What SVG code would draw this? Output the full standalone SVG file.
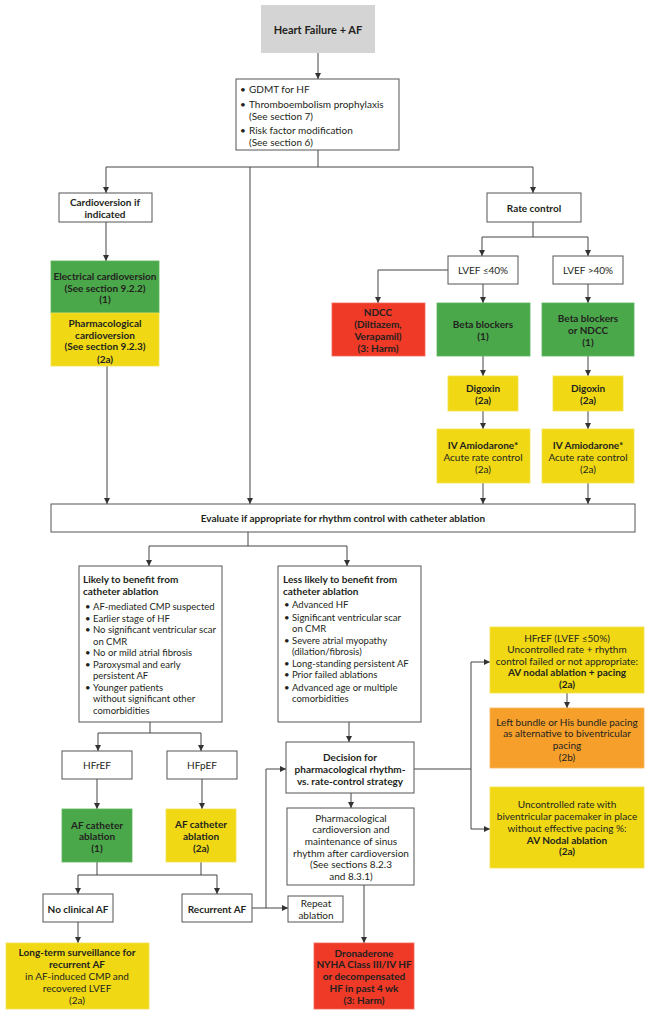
<svg xmlns="http://www.w3.org/2000/svg" width="648" height="1013" viewBox="0 0 648 1013">
<style>
.t{font-family:Lato,"Liberation Sans",sans-serif;font-size:10px;fill:#231f20}
.s{font-size:9.5px}
.b{font-weight:bold}
.c{text-anchor:middle}
.box{fill:#fff;stroke:#555;stroke-width:1}
.green{fill:#4aa84a;stroke:#5bb45b;stroke-width:0.8}
.yellow{fill:#f0d914;stroke:#f3e050;stroke-width:0.8}
.red{fill:#ee3a26;stroke:#f26655;stroke-width:0.8}
.orange{fill:#f6a02b;stroke:#f8b55a;stroke-width:0.8}
.gray{fill:#d4d4d4}
.ln{stroke:#444;stroke-width:1;fill:none}
.ar{marker-end:url(#ah)}
</style>
<defs>
<marker id="ah" markerUnits="userSpaceOnUse" markerWidth="7" markerHeight="7" refX="6" refY="3" orient="auto">
<path d="M0,0 L6,3 L0,6 z" fill="#333"/>
</marker>
</defs>
<rect width="648" height="1013" fill="#fff"/>

<g id="connectors">
<path class="ln ar" d="M318,53 V79"/>
<path class="ln" d="M318,150 V167 M106,167 H533"/>
<path class="ln ar" d="M106,167 V193"/>
<path class="ln ar" d="M533,167 V193"/>
<path class="ln ar" d="M250,167 V504"/>
<path class="ln ar" d="M106,222 V261"/>
<path class="ln ar" d="M107,366 V504"/>
<path class="ln" d="M533,222 V237 M482,237 H588"/>
<path class="ln ar" d="M482,237 V256"/>
<path class="ln ar" d="M588,237 V256"/>
<path class="ln ar" d="M448,270 H378 V303"/>
<path class="ln ar" d="M483,284 V303"/>
<path class="ln ar" d="M588,284 V303"/>
<path class="ln ar" d="M483,356 V376"/>
<path class="ln ar" d="M588,356 V376"/>
<path class="ln ar" d="M483,411 V429"/>
<path class="ln ar" d="M588,411 V429"/>
<path class="ln ar" d="M483,483 V504"/>
<path class="ln ar" d="M588,483 V504"/>
<path class="ln" d="M248,532 V546 M149,546 H347"/>
<path class="ln ar" d="M149,546 V566"/>
<path class="ln ar" d="M347,546 V566"/>
<path class="ln" d="M150,722 V733 M98,733 H201"/>
<path class="ln ar" d="M98,733 V751"/>
<path class="ln ar" d="M201,733 V751"/>
<path class="ln ar" d="M349,722 V742"/>
<path class="ln ar" d="M97,779 V809"/>
<path class="ln ar" d="M202,779 V809"/>
<path class="ln" d="M97,862 V875 M201,862 V875 M78,875 H217"/>
<path class="ln ar" d="M78,875 V894"/>
<path class="ln ar" d="M217,875 V894"/>
<path class="ln ar" d="M78,922 V943"/>
<path class="ln ar" d="M252,908 H288"/>
<path class="ln ar" d="M266,908 V769 H286"/>
<path class="ln ar" d="M351,793 V808"/>
<path class="ln ar" d="M364,885 V943"/>
<path class="ln" d="M414,769 H471 M471,662 V829"/>
<path class="ln ar" d="M471,662 H490"/>
<path class="ln ar" d="M471,829 H490"/>
<path class="ln ar" d="M567,693 V708"/>
</g>

<g id="n-hf">
<rect class="gray" x="261" y="5" width="114" height="48"/>
<text class="t b c" x="318" y="34" style="font-size:11px">Heart Failure + AF</text>
</g>

<g id="n-gdmt">
<rect class="box" x="236" y="79" width="163" height="71"/>
<text class="t" x="240" y="92.5">•</text>
<text class="t" x="249" y="92.5">GDMT for HF</text>
<text class="t" x="240" y="107.5">•</text>
<text class="t" x="249" y="107.5">Thromboembolism prophylaxis</text>
<text class="t" x="249" y="119.5">(See section 7)</text>
<text class="t" x="240" y="133.5">•</text>
<text class="t" x="249" y="133.5">Risk factor modification</text>
<text class="t" x="249" y="145.5">(See section 6)</text>
</g>

<g id="n-cardioversion">
<rect class="box" x="59" y="193" width="93" height="29"/>
<text class="t b c" x="105" y="205.5">Cardioversion if</text>
<text class="t b c" x="105" y="217.5">indicated</text>
</g>

<g id="n-electrical">
<rect class="green" x="51" y="261" width="108" height="52"/>
<text class="t b c" x="105" y="279.5">Electrical cardioversion</text>
<text class="t b c" x="105" y="291.5">(See section 9.2.2)</text>
<text class="t b c" x="105" y="302.5">(1)</text>
</g>

<g id="n-pharmcv">
<rect class="yellow" x="51" y="313" width="108" height="53"/>
<text class="t b c" x="105" y="326.5">Pharmacological</text>
<text class="t b c" x="105" y="338.5">cardioversion</text>
<text class="t b c" x="105" y="349.5">(See section 9.2.3)</text>
<text class="t b c" x="105" y="362.5">(2a)</text>
</g>

<g id="n-rate">
<rect class="box" x="487" y="193" width="94" height="29"/>
<text class="t b c" x="534" y="211.5">Rate control</text>
</g>

<g id="n-lvef40">
<rect class="box" x="448" y="256" width="70" height="28"/>
<text class="t c" x="483" y="273.5">LVEF ≤40%</text>
</g>

<g id="n-lvefgt40">
<rect class="box" x="553" y="256" width="70" height="28"/>
<text class="t c" x="588" y="273.5">LVEF &gt;40%</text>
</g>

<g id="n-ndcc">
<rect class="red" x="332" y="303" width="93" height="53"/>
<text class="t b c" x="378" y="315.5">NDCC</text>
<text class="t b c" x="378" y="327.5">(Diltiazem,</text>
<text class="t b c" x="378" y="339.5">Verapamil)</text>
<text class="t b c" x="378" y="351.5">(3: Harm)</text>
</g>

<g id="n-beta">
<rect class="green" x="437" y="303" width="93" height="53"/>
<text class="t b c" x="483" y="327.5">Beta blockers</text>
<text class="t b c" x="483" y="339.5">(1)</text>
</g>

<g id="n-betandcc">
<rect class="green" x="542" y="303" width="92" height="53"/>
<text class="t b c" x="588" y="321.5">Beta blockers</text>
<text class="t b c" x="588" y="333.5">or NDCC</text>
<text class="t b c" x="588" y="345.5">(1)</text>
</g>

<g id="n-digoxin1">
<rect class="yellow" x="448" y="376" width="70" height="35"/>
<text class="t b c" x="483" y="391.5">Digoxin</text>
<text class="t b c" x="483" y="403.5">(2a)</text>
</g>

<g id="n-digoxin2">
<rect class="yellow" x="553" y="376" width="70" height="35"/>
<text class="t b c" x="588" y="391.5">Digoxin</text>
<text class="t b c" x="588" y="403.5">(2a)</text>
</g>

<g id="n-amio1">
<rect class="yellow" x="437" y="429" width="93" height="54"/>
<text class="t b c" x="483" y="448.5">IV Amiodarone*</text>
<text class="t c" x="483" y="460.5">Acute rate control</text>
<text class="t c" x="483" y="472.5">(2a)</text>
</g>

<g id="n-amio2">
<rect class="yellow" x="542" y="429" width="92" height="54"/>
<text class="t b c" x="588" y="448.5">IV Amiodarone*</text>
<text class="t c" x="588" y="460.5">Acute rate control</text>
<text class="t c" x="588" y="472.5">(2a)</text>
</g>

<g id="n-evaluate">
<rect class="box" x="51" y="504" width="584" height="28"/>
<text class="t b c" x="343" y="521.5">Evaluate if appropriate for rhythm control with catheter ablation</text>
</g>

<g id="n-likely">
<rect class="box" x="79" y="566" width="143" height="156"/>
<text class="t b" x="83" y="582.5">Likely to benefit from</text>
<text class="t b" x="83" y="594.5">catheter ablation</text>
<text class="t s" x="85" y="609.5">•</text><text class="t s" x="93" y="609.5">AF-mediated CMP suspected</text>
<text class="t s" x="85" y="621.5">•</text><text class="t s" x="93" y="621.5">Earlier stage of HF</text>
<text class="t s" x="85" y="632.5">•</text><text class="t s" x="93" y="632.5">No significant ventricular scar</text>
<text class="t s" x="93" y="644.5">on CMR</text>
<text class="t s" x="85" y="655.5">•</text><text class="t s" x="93" y="655.5">No or mild atrial fibrosis</text>
<text class="t s" x="85" y="667.5">•</text><text class="t s" x="93" y="667.5">Paroxysmal and early</text>
<text class="t s" x="93" y="678.5">persistent AF</text>
<text class="t s" x="85" y="690.5">•</text><text class="t s" x="93" y="690.5">Younger patients</text>
<text class="t s" x="93" y="701.5">without significant other</text>
<text class="t s" x="93" y="713.5">comorbidities</text>
</g>

<g id="n-lesslikely">
<rect class="box" x="278" y="566" width="143" height="156"/>
<text class="t b" x="283" y="582.5">Less likely to benefit from</text>
<text class="t b" x="283" y="594.5">catheter ablation</text>
<text class="t s" x="284" y="607.5">•</text><text class="t s" x="292" y="607.5">Advanced HF</text>
<text class="t s" x="284" y="620.5">•</text><text class="t s" x="292" y="620.5">Significant ventricular scar</text>
<text class="t s" x="292" y="631.5">on CMR</text>
<text class="t s" x="284" y="643.5">•</text><text class="t s" x="292" y="643.5">Severe atrial myopathy</text>
<text class="t s" x="292" y="654.5">(dilation/fibrosis)</text>
<text class="t s" x="284" y="666.5">•</text><text class="t s" x="292" y="666.5">Long-standing persistent AF</text>
<text class="t s" x="284" y="677.5">•</text><text class="t s" x="292" y="677.5">Prior failed ablations</text>
<text class="t s" x="284" y="690.5">•</text><text class="t s" x="292" y="690.5">Advanced age or multiple</text>
<text class="t s" x="292" y="701.5">comorbidities</text>
</g>

<g id="n-hfref">
<rect class="box" x="62" y="751" width="70" height="28"/>
<text class="t c" x="97" y="768.5">HFrEF</text>
</g>

<g id="n-hfpef">
<rect class="box" x="167" y="751" width="70" height="28"/>
<text class="t c" x="202" y="768.5">HFpEF</text>
</g>

<g id="n-ablation1">
<rect class="green" x="62" y="809" width="70" height="53"/>
<text class="t b c" x="97" y="828.5">AF catheter</text>
<text class="t b c" x="97" y="839.5">ablation</text>
<text class="t b c" x="97" y="851.5">(1)</text>
</g>

<g id="n-ablation2">
<rect class="yellow" x="166" y="809" width="70" height="53"/>
<text class="t b c" x="201" y="827.5">AF catheter</text>
<text class="t b c" x="201" y="839.5">ablation</text>
<text class="t b c" x="201" y="851.5">(2a)</text>
</g>

<g id="n-noaf">
<rect class="box" x="43" y="894" width="70" height="28"/>
<text class="t b c" x="78" y="912.5">No clinical AF</text>
</g>

<g id="n-recurrent">
<rect class="box" x="182" y="894" width="70" height="28"/>
<text class="t b c" x="217" y="912.5">Recurrent AF</text>
</g>

<g id="n-repeat">
<rect class="box" x="288" y="896" width="55" height="26"/>
<text class="t c" x="316" y="906.5">Repeat</text>
<text class="t c" x="316" y="918.5">ablation</text>
</g>

<g id="n-surveillance">
<rect class="yellow" x="6" y="943" width="143" height="66"/>
<text class="t b c" x="77" y="955.5">Long-term surveillance for</text>
<text class="t b c" x="77" y="967.5">recurrent AF</text>
<text class="t c" x="77" y="979.5">in AF-induced CMP and</text>
<text class="t c" x="77" y="991.5">recovered LVEF</text>
<text class="t c" x="77" y="1003.5">(2a)</text>
</g>

<g id="n-decision">
<rect class="box" x="286" y="742" width="128" height="51"/>
<text class="t b c" x="350" y="760.5">Decision for</text>
<text class="t b c" x="350" y="772.5">pharmacological rhythm-</text>
<text class="t b c" x="350" y="784.5">vs. rate-control strategy</text>
</g>

<g id="n-pharmsinus">
<rect class="box" x="287" y="808" width="127" height="77"/>
<text class="t c" x="351" y="821.5">Pharmacological</text>
<text class="t c" x="351" y="832.5">cardioversion and</text>
<text class="t c" x="351" y="844.5">maintenance of sinus</text>
<text class="t c" x="351" y="856.5">rhythm after cardioversion</text>
<text class="t c" x="351" y="867.5">(See sections 8.2.3</text>
<text class="t c" x="351" y="879.5">and 8.3.1)</text>
</g>

<g id="n-dronedarone">
<rect class="red" x="314" y="943" width="100" height="66"/>
<text class="t b c" x="364" y="956.5">Dronaderone</text>
<text class="t b c" x="364" y="967.5">NYHA Class III/IV HF</text>
<text class="t b c" x="364" y="979.5">or decompensated</text>
<text class="t b c" x="364" y="991.5">HF in past 4 wk</text>
<text class="t b c" x="364" y="1003.5">(3: Harm)</text>
</g>

<g id="n-avnode">
<rect class="yellow" x="490" y="627" width="154" height="66"/>
<text class="t c" x="567" y="641.5">HFrEF (LVEF ≤50%)</text>
<text class="t c" x="567" y="652.5">Uncontrolled rate + rhythm</text>
<text class="t c" x="567" y="664.5">control failed or not appropriate:</text>
<text class="t b c" x="567" y="675.5">AV nodal ablation + pacing</text>
<text class="t b c" x="567" y="687.5">(2a)</text>
</g>

<g id="n-bundle">
<rect class="orange" x="490" y="708" width="154" height="60"/>
<text class="t c" x="567" y="725.5">Left bundle or His bundle pacing</text>
<text class="t c" x="567" y="736.5">as alternative to biventricular</text>
<text class="t c" x="567" y="748.5">pacing</text>
<text class="t c" x="567" y="760.5">(2b)</text>
</g>

<g id="n-uncontrolled">
<rect class="yellow" x="490" y="787" width="154" height="81"/>
<text class="t c" x="567" y="807.5">Uncontrolled rate with</text>
<text class="t c" x="567" y="819.5">biventricular pacemaker in place</text>
<text class="t c" x="567" y="831.5">without effective pacing %:</text>
<text class="t b c" x="567" y="843.5">AV Nodal ablation</text>
<text class="t b c" x="567" y="854.5">(2a)</text>
</g>
</svg>
